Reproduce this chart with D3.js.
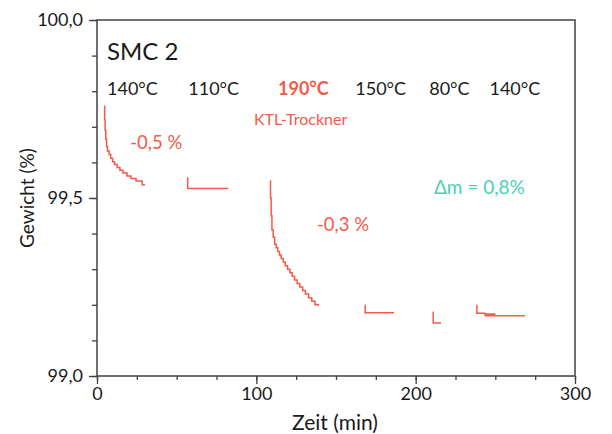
<!DOCTYPE html>
<html>
<head>
<meta charset="utf-8">
<script src="https://cdn.jsdelivr.net/npm/d3@7"></script>
<style>
  body { margin: 0; background: #fff; }
  text { font-family: Lato, "Open Sans", sans-serif; }
</style>
</head>
<body>
<svg id="chart" width="612" height="434"></svg>
<script>
// data: [Zeit (min), Gewicht (%)]
const seg140a = [[4.6, 99.758], [4.8, 99.72], [5.1, 99.69], [5.5, 99.665], [6.0, 99.645], [6.6, 99.632],
  [7.6, 99.622], [8.6, 99.612], [9.8, 99.602], [11.0, 99.594], [12.6, 99.586], [14.4, 99.578],
  [16.3, 99.570], [18.8, 99.562], [21.3, 99.555], [24.5, 99.548], [28.3, 99.541], [28.4, 99.537], [30.1, 99.537]]
const seg110 = [[56.9, 99.558], [56.9, 99.527], [82.4, 99.527]]
const seg190 = [[108.6, 99.548], [108.9, 99.50], [109.3, 99.45], [109.8, 99.41], [110.6, 99.39],
  [111.5, 99.37], [112.5, 99.36], [113.5, 99.35], [114.5, 99.34], [115.6, 99.33], [116.9, 99.32],
  [118.2, 99.31], [119.6, 99.30], [121.1, 99.29], [122.5, 99.28], [124.0, 99.27], [125.6, 99.26],
  [127.3, 99.25], [129.1, 99.24], [130.8, 99.23], [132.8, 99.22], [134.8, 99.21], [136.8, 99.20],
  [138.9, 99.197]]
const seg150 = [[168.2, 99.199], [168.3, 99.178], [186.4, 99.178]]
const seg80 = [[210.9, 99.180], [211.0, 99.149], [215.9, 99.149]]
const seg140b = [[238.3, 99.199], [238.4, 99.176], [243.5, 99.176], [243.6, 99.169], [244.6, 99.174],
  [245.6, 99.169], [246.6, 99.174], [247.6, 99.169], [248.6, 99.174], [249.6, 99.169], [268.6, 99.169]]
const segments = [seg140a, seg110, seg190, seg150, seg80, seg140b]

const xMajor = [0, 100, 200, 300]
const xMinor = d3.range(0, 301, 25)
const yMajor = [99.0, 99.5, 100.0]
const yMinor = d3.range(99.0, 100.01, 0.1)

const tempLabels = [
  { t: 6.3, text: '140°C', bold: false },
  { t: 57.3, text: '110°C', bold: false },
  { t: 113.6, text: '190°C', bold: true },
  { t: 162.1, text: '150°C', bold: false },
  { t: 208.5, text: '80°C', bold: false },
  { t: 246.3, text: '140°C', bold: false }
]

const red = '#f4594a'
const teal = '#4ccfb5'
const ink = '#1a1a1a'
const frame = '#404040'

const width = 612, height = 434
const margin = { top: 20, right: 37, bottom: 58, left: 97 }
const boundWidth = width - margin.left - margin.right
const boundHeight = height - margin.top - margin.bottom

const svg = d3.select('#chart')
svg.append('rect').attr('width', width).attr('height', height).attr('fill', '#fff')

const bounds = svg.append('g')
    .attr('transform', `translate(${margin.left},${margin.top})`)

const xScale = d3.scaleLinear().domain([0, 300]).range([0, boundWidth])
const yScale = d3.scaleLinear().domain([99, 100]).range([boundHeight, 0])

const comma = d => d3.format('.1f')(d).replace('.', ',')

// minor ticks
bounds.append('g')
    .attr('transform', `translate(0,${boundHeight})`)
    .call(d3.axisBottom(xScale).tickValues(xMinor).tickSize(4).tickFormat(''))
    .call(g => g.select('.domain').remove())
bounds.append('g')
    .call(d3.axisLeft(yScale).tickValues(yMinor).tickSize(5).tickFormat(''))
    .call(g => g.select('.domain').remove())

// major ticks + labels
const xAxis = bounds.append('g')
    .attr('transform', `translate(0,${boundHeight})`)
    .call(d3.axisBottom(xScale).tickValues(xMajor).tickSize(8).tickPadding(3).tickFormat(d3.format('d')))
const yAxis = bounds.append('g')
    .call(d3.axisLeft(yScale).tickValues(yMajor).tickSize(8).tickPadding(6).tickFormat(comma))

bounds.selectAll('.tick line').attr('stroke', frame).attr('stroke-width', 1.3)
bounds.selectAll('.domain').remove()
bounds.selectAll('.tick text')
    .attr('fill', ink)
    .style('font-size', '18px')
    .style('font-family', 'Lato, sans-serif')

// frame
bounds.append('rect')
    .attr('width', boundWidth)
    .attr('height', boundHeight)
    .attr('fill', 'none')
    .attr('stroke', frame)
    .attr('stroke-width', 1.5)

// axis titles
svg.append('text')
    .text('Zeit (min)')
    .attr('x', margin.left + boundWidth / 2 - 1)
    .attr('y', 430)
    .attr('text-anchor', 'middle')
    .attr('fill', ink)
    .attr('font-size', 21)
svg.append('text')
    .text('Gewicht (%)')
    .attr('transform', `translate(34,${margin.top + boundHeight / 2}) rotate(-90)`)
    .attr('text-anchor', 'middle')
    .attr('fill', ink)
    .attr('font-size', 19)

// curves
const line = d3.line()
    .x(d => xScale(d[0]))
    .y(d => yScale(d[1]))
    .curve(d3.curveStepAfter)

bounds.selectAll('path.seg')
  .data(segments)
  .join('path')
    .attr('class', 'seg')
    .attr('d', line)
    .attr('fill', 'none')
    .attr('stroke', red)
    .attr('stroke-width', 1.5)

// annotations
bounds.append('text')
    .text('SMC 2')
    .attr('x', 10)
    .attr('y', 40)
    .attr('fill', ink)
    .attr('font-size', 24)

bounds.selectAll('text.temp')
  .data(tempLabels)
  .join('text')
    .attr('class', 'temp')
    .text(d => d.text)
    .attr('x', d => xScale(d.t))
    .attr('y', 75)
    .attr('fill', d => d.bold ? red : ink)
    .attr('font-weight', d => d.bold ? 700 : 400)
    .attr('font-size', 18)

bounds.append('text')
    .text('KTL-Trockner')
    .attr('x', xScale(98.5))
    .attr('y', 105)
    .attr('fill', red)
    .attr('font-size', 16)

bounds.append('text')
    .text('-0,5 %')
    .attr('x', xScale(20.8))
    .attr('y', 129)
    .attr('fill', red)
    .attr('font-size', 18.5)

bounds.append('text')
    .text('-0,3 %')
    .attr('x', xScale(138))
    .attr('y', 211)
    .attr('fill', red)
    .attr('font-size', 18.5)

bounds.append('text')
    .text('Δm = 0,8%')
    .attr('x', xScale(211.5))
    .attr('y', 174)
    .attr('fill', teal)
    .attr('font-size', 19)
</script>
</body>
</html>
